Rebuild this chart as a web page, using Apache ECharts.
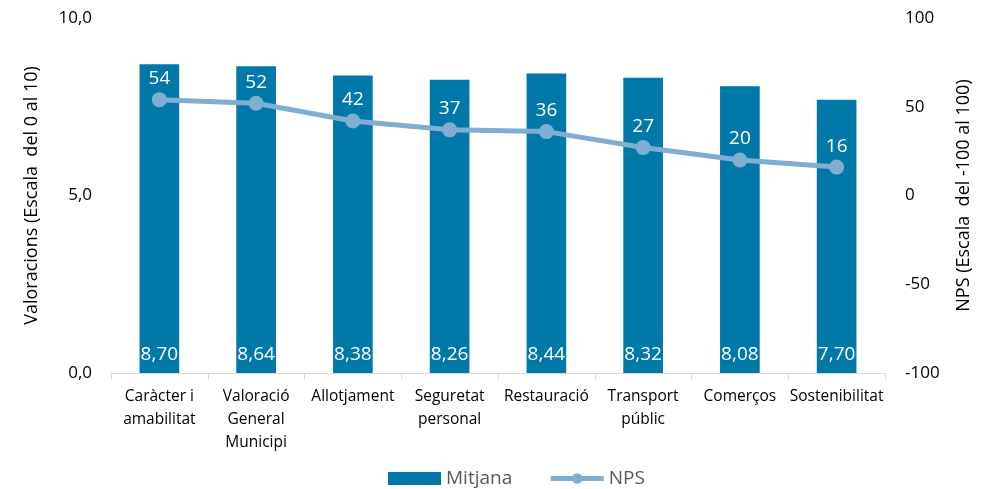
<!DOCTYPE html>
<html>
<head>
<meta charset="utf-8">
<script src="https://cdn.jsdelivr.net/npm/echarts@6/dist/echarts.min.js"></script>
<style>
  html, body { margin: 0; padding: 0; background: #fff; }
  #chart { width: 981px; height: 489px; }
</style>
</head>
<body>
<div id="chart"></div>
<script>
// Categories and values
const categories = ['Caràcter i\namabilitat', 'Valoració\nGeneral\nMunicipi', 'Allotjament', 'Seguretat\npersonal', 'Restauració', 'Transport\npúblic', 'Comerços', 'Sostenibilitat'];
const mitjana = [8.70, 8.64, 8.38, 8.26, 8.44, 8.32, 8.08, 7.70];
const nps = [54, 52, 42, 37, 36, 27, 20, 16];
const leftTicks = [0, 5, 10];
const rightTicks = [-100, -50, 0, 50, 100];

const FONT = '"Open Sans", "Noto Sans", sans-serif';
const fmtComma = (v, d) => v.toFixed(d).replace('.', ',');
const LINE_COLOR = '#7FAED2';

const chart = echarts.init(document.getElementById('chart'));
chart.setOption({
  animation: false,
  textStyle: { fontFamily: FONT },
  grid: { left: 111, right: 93, top: 18, bottom: 116 },
  legend: {
    bottom: -4,
    left: 383,
    itemGap: 36,
    itemWidth: 53,
    itemHeight: 13,
    textStyle: { fontSize: 19, color: '#595959', fontFamily: FONT },
    data: [
      { name: 'Mitjana', icon: 'rect' },
      { name: 'NPS', lineStyle: { width: 5, color: LINE_COLOR }, itemStyle: { color: LINE_COLOR } }
    ]
  },
  xAxis: {
    type: 'category',
    data: categories,
    axisLine: { lineStyle: { color: '#d9d9d9', width: 1 } },
    axisTick: { show: true, length: 6, lineStyle: { color: '#d9d9d9' } },
    axisLabel: { color: '#000', fontSize: 15.5, lineHeight: 23, margin: 12, interval: 0, fontFamily: FONT }
  },
  yAxis: [
    {
      type: 'value',
      min: leftTicks[0],
      max: leftTicks[leftTicks.length - 1],
      interval: 5,
      name: 'Valoracions (Escala  del 0 al 10)',
      nameLocation: 'middle',
      nameGap: 70,
      nameRotate: 90,
      nameTextStyle: { fontSize: 18, color: '#000', fontFamily: FONT },
      axisLabel: { formatter: v => fmtComma(v, 1), fontSize: 17, color: '#000', margin: 19 },
      axisLine: { show: false },
      axisTick: { show: false },
      splitLine: { show: false }
    },
    {
      type: 'value',
      min: rightTicks[0],
      max: rightTicks[rightTicks.length - 1],
      interval: 50,
      name: 'NPS (Escala  del -100 al 100)',
      nameLocation: 'middle',
      nameGap: 70,
      nameRotate: 90,
      nameTextStyle: { fontSize: 18, color: '#000', fontFamily: FONT },
      axisLabel: { fontSize: 17, color: '#000', margin: 20 },
      axisLine: { show: false },
      axisTick: { show: false },
      splitLine: { show: false }
    }
  ],
  series: [
    {
      name: 'Mitjana',
      type: 'bar',
      yAxisIndex: 0,
      data: mitjana,
      barWidth: '41%',
      itemStyle: { color: '#0079A8' },
      label: {
        show: true,
        position: 'insideBottom',
        distance: 9,
        color: '#fff',
        fontSize: 19,
        formatter: p => fmtComma(p.value, 2)
      }
    },
    {
      name: 'NPS',
      type: 'line',
      yAxisIndex: 1,
      data: nps,
      symbol: 'circle',
      symbolSize: 15,
      lineStyle: { color: LINE_COLOR, width: 5 },
      itemStyle: { color: LINE_COLOR },
      label: {
        show: true,
        position: 'top',
        distance: 4,
        color: '#fff',
        fontSize: 19
      }
    }
  ]
});
</script>
</body>
</html>
